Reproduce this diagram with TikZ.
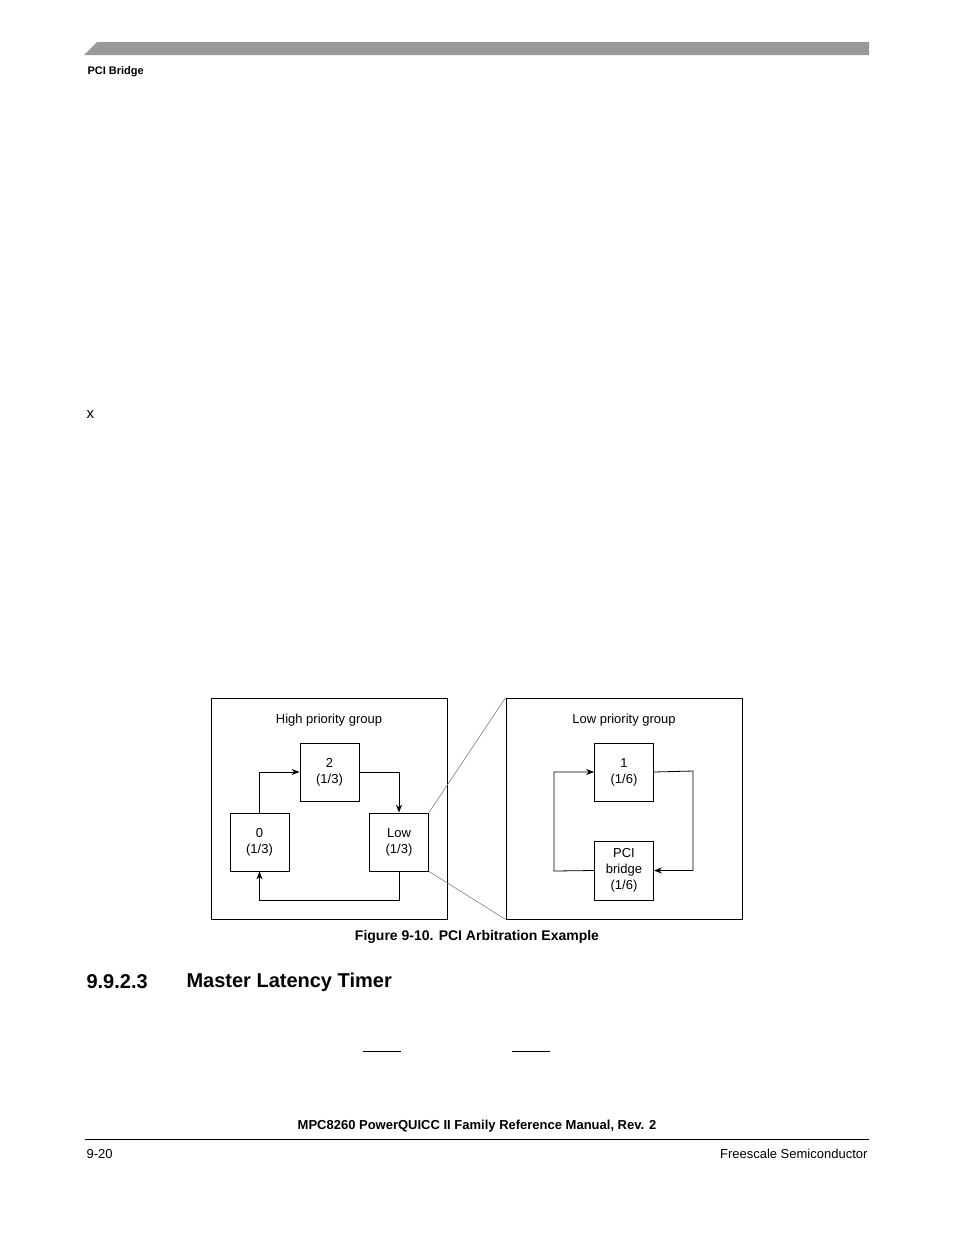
\documentclass[tikz,border=0pt]{standalone}
\usepackage{fontspec}
\setmainfont{Liberation Sans}
\usetikzlibrary{arrows.meta}
\begin{document}
\begin{tikzpicture}[x=1pt,y=-1pt,
  box/.style={draw,line width=0.8pt,minimum width=59pt,minimum height=58pt,inner sep=0pt,align=center,font=\fontsize{13}{16}\selectfont},
  grp/.style={draw,line width=0.8pt,minimum width=236pt,minimum height=221pt,inner sep=0pt},
  conn/.style={line width=0.8pt,-{Stealth[length=8pt,width=6pt]}},
  lbl/.style={font=\fontsize{13}{16}\selectfont}]
\useasboundingbox (0,0) rectangle (954,1235);
\fill[gray!80] (97,42) -- (869,42) -- (869,55) -- (84,55) -- cycle;
\node[anchor=west,font=\bfseries\fontsize{11}{13}\selectfont] (hdr) at (84,72) {PCI Bridge};
\node[anchor=west,font=\fontsize{15}{17}\selectfont] (x) at (83,415) {x};
\node[grp] (hg) at (329,808.5) {};
\node[grp] (lg) at (624,808.5) {};
\node[lbl] (hgt) at (329,720) {High priority group};
\node[lbl] (lgt) at (624,720) {Low priority group};
\node[box] (n2) at (329.5,772) {2\\(1/3)};
\node[box] (n0) at (259.5,842) {0\\(1/3)};
\node[box] (low) at (399,842) {Low\\(1/3)};
\node[box,minimum height=58pt] (n1) at (624,772) {1\\(1/6)};
\node[box,minimum height=59pt] (pci) at (624,870.5) {PCI\\bridge\\(1/6)};
\draw[conn] (n0.north) |- (n2.west);
\draw[conn] (n2.east) -| (low.north);
\draw[conn] (low.south) -- ++(0,29) -| (n0.south);
\draw[conn] (n1.east) -- (693,771) |- (pci.east);
\draw[conn] (pci.west) -- (554,871) |- (n1.west);
\draw[gray,line width=0.6pt] (low.north east) -- (lg.north west);
\draw[gray,line width=0.6pt] (low.south east) -- (lg.south west);
\node[font=\bfseries\fontsize{14}{16}\selectfont] (cap) at (477,937) {Figure 9-10. PCI Arbitration Example};
\node[anchor=west,font=\bfseries\fontsize{20}{22}\selectfont] (h1) at (83,982) {9.9.2.3};
\node[anchor=west,font=\bfseries\fontsize{20}{22}\selectfont] (h2) at (183,982) {Master Latency Timer};
\draw[line width=0.8pt] (363,1051) -- (401,1051);
\draw[line width=0.8pt] (512,1051) -- (550,1051);
\node[font=\bfseries\fontsize{13}{15}\selectfont] (ft) at (477,1126) {MPC8260 PowerQUICC II Family Reference Manual, Rev. 2};
\draw[line width=0.8pt] (85,1139) -- (869,1139);
\node[anchor=west,font=\fontsize{13}{15}\selectfont] (pg) at (83,1154) {9-20};
\node[anchor=east,font=\fontsize{13}{15}\selectfont] (fs) at (871,1154) {Freescale Semiconductor};
\end{tikzpicture}
\end{document}
